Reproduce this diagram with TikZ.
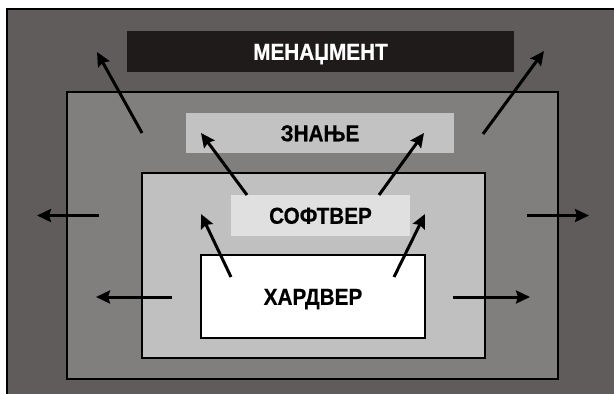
\documentclass[tikz,border=0pt]{standalone}
\usepackage{fontspec}
\setmainfont{Liberation Sans}
\newfontfamily\bandfont[FakeStretch=0.9,FakeBold=0.6]{Liberation Sans Bold}
\usetikzlibrary{arrows.meta}
\definecolor{outerfill}{RGB}{96,92,92}
\definecolor{midfill}{RGB}{128,127,126}
\definecolor{innerfill}{RGB}{192,192,192}
\definecolor{knowfill}{RGB}{194,194,194}
\definecolor{softfill}{RGB}{224,224,224}
\definecolor{mgmtfill}{RGB}{32,27,27}
\begin{document}
\begin{tikzpicture}[x=1pt,y=-1pt,
  layer/.style={draw=black, line width=2pt, inner sep=0pt},
  band/.style={inner sep=0pt, font=\bandfont\fontsize{23}{23}\selectfont,
               text height=16.5pt, text depth=0pt},
  flow/.style={line width=3pt, -{Stealth[length=14pt,width=13pt,inset=2pt]}}]
\useasboundingbox (0,0) rectangle (614,394);
\clip (0,0) rectangle (614,394);

% nested layers
\node[layer, fill=outerfill, minimum width=623pt, minimum height=401pt] (outer) at (318.5,209.5) {};
\node[band, fill=mgmtfill, text=white, minimum width=387pt, minimum height=41pt] (mgmt) at (320.5,51.5) {МЕНАЏМЕНТ};
\node[layer, fill=midfill, minimum width=491pt, minimum height=287pt] (mid) at (312.5,235.5) {};
\node[band, fill=knowfill, minimum width=268pt, minimum height=40pt] (know) at (320,133) {ЗНАЊЕ};
\node[layer, fill=innerfill, minimum width=343pt, minimum height=185pt] (inner) at (313.5,265.5) {};
\node[band, fill=softfill, minimum width=179pt, minimum height=41pt] (soft) at (320.5,215.5) {СОФТВЕР};
\node[band, draw=black, line width=1.5pt, fill=white, minimum width=224pt, minimum height=83pt] (hard) at (313,296.5) {ХАРДВЕР};

% arrow end points
\coordinate (a1s) at (142,133);  \coordinate (a1e) at (97,52);
\coordinate (a2s) at (483,134);  \coordinate (a2e) at (544,51);
\coordinate (a3s) at (247,195);  \coordinate (a3e) at (201,133);
\coordinate (a4s) at (379,195);  \coordinate (a4e) at (424,133);
\coordinate (a5s) at (99,215.5); \coordinate (a5e) at (37,215.5);
\coordinate (a6s) at (527,215.5);\coordinate (a6e) at (589,215.5);
\coordinate (a7s) at (172,297);  \coordinate (a7e) at (96,297);
\coordinate (a8s) at (453,297);  \coordinate (a8e) at (530,297);
\coordinate (a9s) at (231,277);  \coordinate (a9e) at (201,214);
\coordinate (a10s) at (394,277); \coordinate (a10e) at (425,214);

% outward growth arrows
\foreach \i in {1,...,10}
  \draw[flow] (a\i s) -- (a\i e);
\end{tikzpicture}
\end{document}
